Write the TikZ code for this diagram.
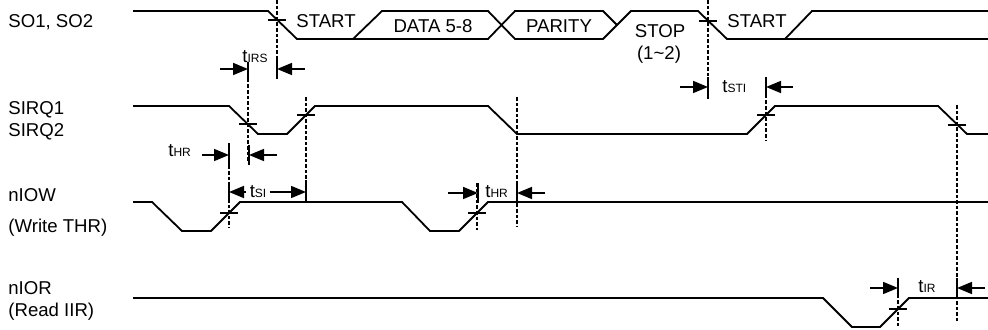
\documentclass[tikz,border=0pt]{standalone}
\usepackage{fontspec}
\setmainfont{Liberation Sans}
\usetikzlibrary{arrows.meta}

\newcommand{\tsub}[1]{t{\fontsize{6}{6}\selectfont #1}}

\begin{document}
\begin{tikzpicture}[x=0.5pt, y=-0.5pt,
  wave/.style={line width=0.9pt},
  guide/.style={line width=0.7pt, dash pattern=on 1.8pt off 1pt},
  bar/.style={line width=0.7pt},
  dim/.style={line width=0.8pt, -{Triangle[length=7.5pt, width=6pt]}},
  every node/.style={inner sep=0pt, font=\fontsize{9.3}{11}\selectfont}]

\useasboundingbox (0,0) rectangle (988,330);

% signal names (base = last line)
\node[anchor=base west] (so) at (8,28) {SO1, SO2};
\node[anchor=base west, align=left] (sirq) at (8,137) {SIRQ1\\SIRQ2};
\node[anchor=base west, align=left] (niow) at (8,233) {nIOW\\[4.5pt](Write THR)};
\node[anchor=base west, align=left] (nior) at (8,317) {nIOR\\(Read IIR)};

% serial frame
\draw[wave] (133,11) -- (268,11) -- (297,39) -- (488,39) -- (515,11) -- (603,11) -- (617,25);
\draw[wave] (353,39) -- (382,11) -- (488,11) -- (515,39) -- (603,39) -- (631,11)
  -- (698,11) -- (727,39) -- (988,39);
\draw[wave] (785,39) -- (812,11) -- (988,11);
\node (start1) at (326,21) {START};
\node (data) at (433,26) {DATA 5-8};
\node (parity) at (559,26) {PARITY};
\node (stop) at (660,31) {STOP};
\node (stopn) at (659,55) {(1\textasciitilde 2)};
\node (start2) at (757,21) {START};

% interrupt, write and read strobes
\draw[wave] (133,106) -- (229,106) -- (258,134) -- (287,134) -- (315,106) -- (488,106)
  -- (517,134) -- (747,134) -- (775,106) -- (938,106) -- (967,134) -- (988,134);
\draw[wave] (133,202) -- (152,202) -- (182,231) -- (211,231) -- (240,202) -- (402,202)
  -- (430,231) -- (459,231) -- (488,202) -- (988,202);
\draw[wave] (133,298) -- (823,298) -- (852,327) -- (880,327) -- (909,298) -- (988,298);

% reference lines
\foreach \x/\a/\b in {277/0/78, 248/62/162, 306/97/202, 229/143/228, 477/183/230,
    517/97/226, 708/0/100, 766/78/140, 957/105/323, 898/278/327}
  \draw[guide] (\x,\a) -- (\x,\b);
\foreach \x/\y in {277/20, 248/124, 306/115, 229/213, 477/213, 708/21, 766/115,
    957/125, 898/309}
  \draw[bar] (\x-9,\y) -- (\x+9,\y);
\foreach \x/\a/\b in {248/62/80, 277/59/79, 229/145/165, 249/145/165, 229/182/202,
    306/180/202, 478/183/203, 517/183/203, 708/77/97, 766/77/97, 898/278/298, 957/278/298}
  \draw[bar] (\x,\a) -- (\x,\b);

% timing parameters
\node[anchor=base west] (tirs) at (242,63) {\tsub{IRS}};
\draw[dim] (220,69) -- (248,69);
\draw[dim] (305,69) -- (277,69);
\node[anchor=base west] (thra) at (168,157) {\tsub{HR}};
\draw[dim] (202,155) -- (229,155);
\draw[dim] (277,155) -- (249,155);
\node[fill=white, inner xsep=1.5pt] (tsi) at (258,192) {\tsub{SI}};
\draw[dim] (tsi.west) -- (229,192);
\draw[dim] (tsi.east) -- (306,192);
\node[anchor=base west] (thrb) at (485,198) {\tsub{HR}};
\draw[dim] (448,193) -- (478,193);
\draw[dim] (545,193) -- (517,193);
\node[anchor=base west] (tsti) at (722,93) {\tsub{STI}};
\draw[dim] (680,87) -- (708,87);
\draw[dim] (793,87) -- (766,87);
\node[anchor=base west] (tir) at (918,293) {\tsub{IR}};
\draw[dim] (870,288) -- (898,288);
\draw[dim] (985,288) -- (957,288);
\end{tikzpicture}
\end{document}
